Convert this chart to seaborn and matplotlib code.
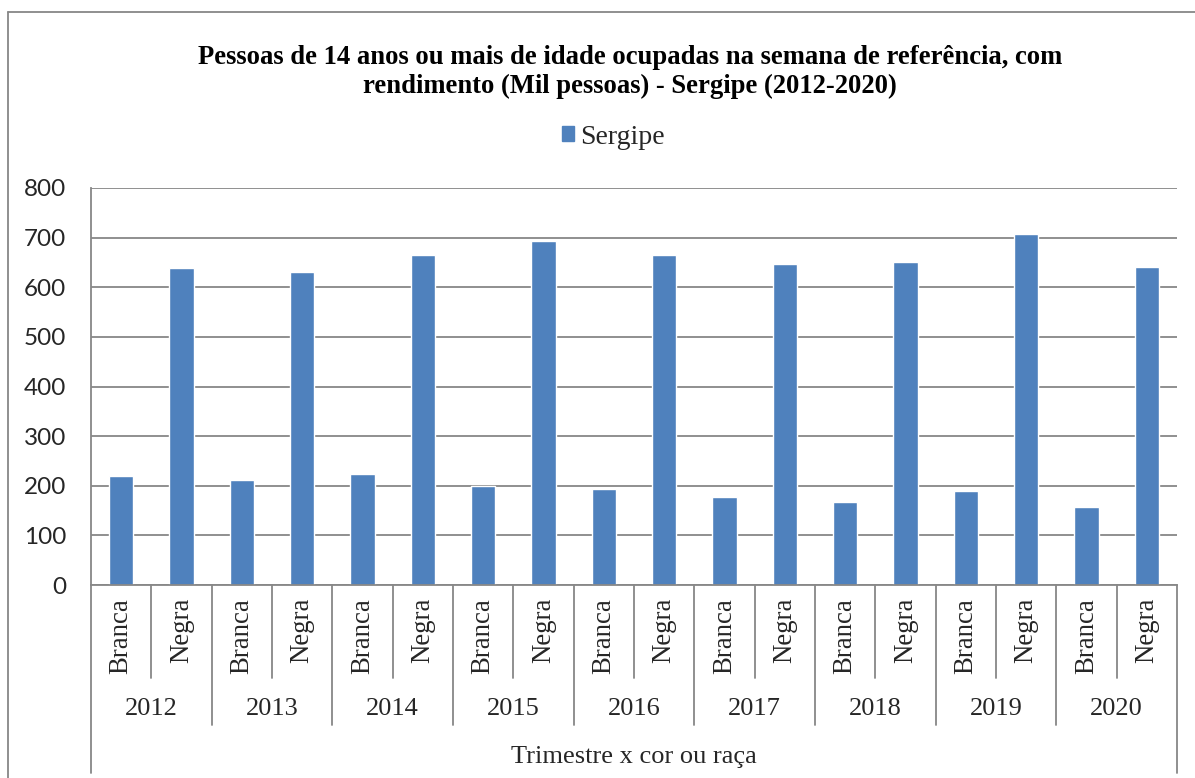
import numpy as np
import pandas as pd
import matplotlib
matplotlib.use('Agg')
import matplotlib.pyplot as plt
from matplotlib.lines import Line2D
from matplotlib.patches import Patch
import seaborn as sns

# data (mil pessoas)
years = ['2012', '2013', '2014', '2015', '2016', '2017', '2018', '2019', '2020']
races = ['Branca', 'Negra']
branca = [219, 212, 224, 199, 193, 178, 168, 190, 157]
negra = [638, 630, 665, 694, 665, 646, 650, 708, 640]

rows = []
for i, y in enumerate(years):
    rows.append((y, 'Branca', branca[i]))
    rows.append((y, 'Negra', negra[i]))
df = pd.DataFrame(rows, columns=['ano', 'cor', 'valor'])
df['cat'] = df['ano'] + ' ' + df['cor']

BLUE = '#4F81BD'
GRID = '#878787'
SERIF = 'Liberation Serif'

sns.set_style('white')
plt.rcParams['font.family'] = ['DejaVu Sans']

fig = plt.figure(figsize=(11.95, 7.78), dpi=100)
ax = fig.add_axes([91 / 1195, 1 - 585 / 778, (1177 - 91) / 1195, (585 - 188) / 778])

sns.barplot(data=df, x='cat', y='valor', color=BLUE, width=0.4, ax=ax,
            saturation=1, errorbar=None)

ax.set_ylim(0, 800)
ax.set_xlim(-0.5, len(df) - 0.5)
ax.set_yticks(range(0, 801, 100))
ax.set_yticklabels([str(v) for v in range(0, 801, 100)], family='Lato', fontsize=17.5)
ax.tick_params(axis='y', length=7, width=1.2, color=GRID, pad=11)
ax.yaxis.grid(True, color=GRID, lw=1.3)
ax.set_axisbelow(True)
ax.set_xticks([])
ax.set_xlabel('')
ax.set_ylabel('')
for s in ['top', 'right']:
    ax.spines[s].set_visible(False)
for s in ['left', 'bottom']:
    ax.spines[s].set_color(GRID)
    ax.spines[s].set_linewidth(1.3)

# multi-level category axis
tr = ax.get_xaxis_transform()
n = len(df)
for b in range(n + 1):
    x = b - 0.5
    if b == 0 or b == n:
        y0 = -0.474
    elif b % 2 == 0:
        y0 = -0.353
    else:
        y0 = -0.234
    ax.add_line(Line2D([x, x], [0, y0], transform=tr, color=GRID, lw=1.3, clip_on=False))

for i, c in enumerate(df['cor']):
    ax.text(i, -0.033, c, transform=tr, rotation=90, ha='center', va='top',
            family=SERIF, fontsize=19.3)
for j, y in enumerate(years):
    ax.text(2 * j + 0.5, -0.312, y, transform=tr, ha='center', va='center',
            family=SERIF, fontsize=19)
ax.text(0.5, -0.433, 'Trimestre x cor ou raça', transform=ax.transAxes,
        ha='center', va='center', family=SERIF, fontsize=19)

# title and legend
fig.text(630 / 1195, 1 - 72 / 778,
         'Pessoas de 14 anos ou mais de idade ocupadas na semana de referência, com\n'
         'rendimento (Mil pessoas) - Sergipe (2012-2020)',
         ha='center', va='center', family=SERIF, fontsize=19.2, fontweight='bold',
         linespacing=1.22, color='black')
fig.legend(handles=[Patch(color=BLUE, label='Sergipe')], loc='center',
           bbox_to_anchor=(613 / 1195, 1 - 137 / 778), frameon=False,
           prop={'family': SERIF, 'size': 20}, handlelength=0.45, handleheight=0.45,
           handletextpad=0.2)

# outer chart border (top and left only visible)
fig.add_artist(Line2D([8 / 1195, 1], [1 - 12 / 778, 1 - 12 / 778], transform=fig.transFigure,
                      color=GRID, lw=1.3))
fig.add_artist(Line2D([8 / 1195, 8 / 1195], [0, 1 - 12 / 778], transform=fig.transFigure,
                      color=GRID, lw=1.3))

fig.savefig('out.png', dpi=100)
